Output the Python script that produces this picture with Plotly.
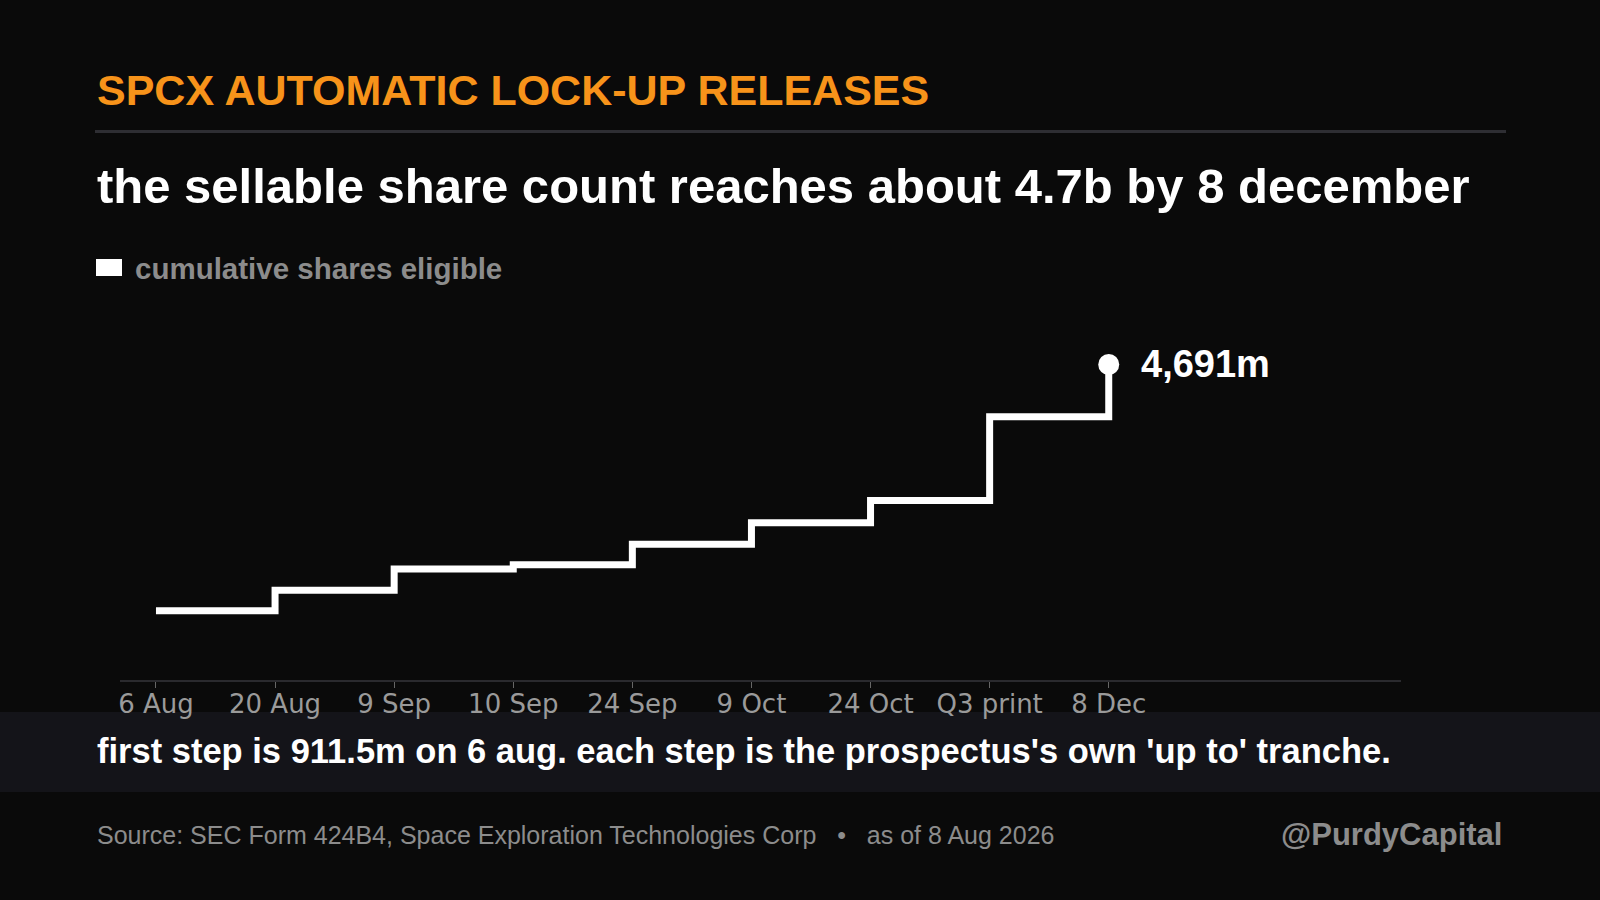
import plotly.graph_objects as go

# data
dates = ["6 Aug", "20 Aug", "9 Sep", "10 Sep", "24 Sep", "9 Oct", "24 Oct", "Q3 print", "8 Dec"]
cum_shares_m = [911.5, 1228, 1553, 1617, 1932, 2262, 2604, 3889, 4691]
end_label = "4,691m"

W, H = 1600, 900
L, R, T, B = 120, 199, 300, 220
PW, PH = W - L - R, H - T - B

BG = "#0a0a0a"
ORANGE = "#f7931a"
GREY = "#8c8c8c"
FONT = "Liberation Sans, Arial, sans-serif"


def px(x):
    return (x - L) / PW


def py(y):
    return (H - B - y) / PH


step = go.Scatter(
    x=dates, y=cum_shares_m, mode="lines", line_shape="hv",
    line={"color": "white", "width": 7}, hoverinfo="skip", showlegend=False,
)
endpoint = go.Scatter(
    x=dates[-1:], y=cum_shares_m[-1:], mode="markers",
    marker={"color": "white", "size": 21}, hoverinfo="skip", showlegend=False,
)

fig = go.Figure(data=[step, endpoint])

anns = [
    dict(text="SPCX AUTOMATIC LOCK-UP RELEASES", x=px(95), y=py(90),
         font=dict(size=43, color=ORANGE, family=FONT, weight="bold")),
    dict(text="the sellable share count reaches about 4.7b by 8 december", x=px(95), y=py(186),
         font=dict(size=49, color="white", family=FONT, weight="bold")),
    dict(text="cumulative shares eligible", x=px(133), y=py(268),
         font=dict(size=29.5, color=GREY, family=FONT, weight="bold")),
    dict(text="first step is 911.5m on 6 aug. each step is the prospectus's own 'up to' tranche.",
         x=px(95), y=py(751),
         font=dict(size=34.5, color="white", family=FONT, weight="bold")),
    dict(text="Source: SEC Form 424B4, Space Exploration Technologies Corp   \u2022   as of 8 Aug 2026",
         x=px(95), y=py(835),
         font=dict(size=25, color=GREY, family=FONT)),
    dict(text="@PurdyCapital", x=px(1504), y=py(834), xanchor="right",
         font=dict(size=31, color=GREY, family=FONT, weight="bold")),
]
for a in anns:
    a.setdefault("xanchor", "left")
    fig.add_annotation(xref="paper", yref="paper", yanchor="middle", showarrow=False, **a)

fig.add_annotation(
    x=dates[-1], y=cum_shares_m[-1], xref="x", yref="y", text=end_label,
    xanchor="left", yanchor="middle", xshift=30, showarrow=False,
    font=dict(size=38, color="white", family=FONT, weight="bold"),
)

# separator line, legend swatch, caption band
fig.add_shape(type="line", xref="paper", yref="paper", x0=px(95), x1=px(1506), y0=py(131.5), y1=py(131.5),
              line=dict(color="#2e2e33", width=3))
fig.add_shape(type="rect", xref="paper", yref="paper", x0=px(96), x1=px(122), y0=py(259), y1=py(276),
              fillcolor="white", line_width=0)
fig.add_shape(type="rect", xref="paper", yref="paper", x0=px(0), x1=px(W), y0=py(712), y1=py(792),
              fillcolor="#141419", line_width=0, layer="below")

fig.update_layout(
    width=W, height=H,
    margin=dict(l=L, r=R, t=T, b=B),
    paper_bgcolor=BG, plot_bgcolor=BG,
    xaxis=dict(
        type="category", range=[-0.302, 10.454], showgrid=False, zeroline=False,
        showline=True, linecolor="#2a2a2e", linewidth=2,
        ticks="outside", ticklen=6, tickcolor="#666666", tickwidth=1,
        ticklabelstandoff=-6,
        tickfont=dict(family="DejaVu Sans", size=26, color="#9a9a9a"),
    ),
    yaxis=dict(range=[-150, 5680], visible=False, showgrid=False, zeroline=False),
)

fig.write_html(
    "out.html",
    config={"displayModeBar": False},
    post_script="document.body.style.margin='0';document.body.style.background='#0a0a0a';",
)
